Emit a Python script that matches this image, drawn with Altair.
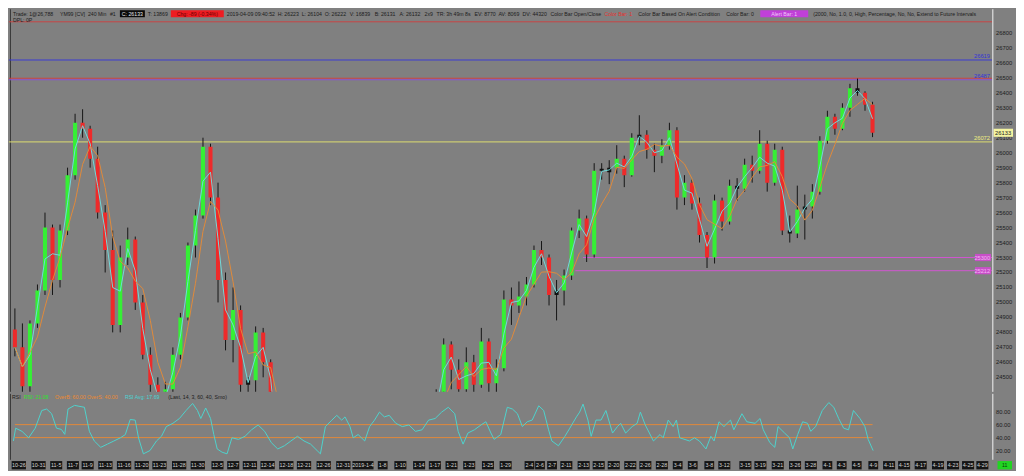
import altair as alt
import pandas as pd

# ---------------- data ----------------
bar_open = [24820, 24700, 24440, 24860, 25080, 25500, 25150, 25480, 25850, 26200,
            26160, 25960, 25600, 25350, 24850, 25300, 25420, 25000, 24650, 24450,
            24300, 24420, 24650, 24900, 25380, 25580, 26040, 25700, 25150, 24750,
            24950, 24450, 24480, 24800, 24600, 24380, 23600, 23680, 23320, 22860,
            22450, 21790, 22880, 23140, 23060, 23330, 23350, 22690, 23430, 23530,
            23790, 23880, 24000, 23990, 23910, 24070, 24210, 24380, 24720, 24550,
            24420, 24600, 24450, 24740, 24460, 24560, 25020, 24980, 25040, 25120,
            25350, 25300, 25050, 25080, 25180, 25480, 25560, 25320, 25880, 25870,
            25900, 25960, 25850, 26100, 26120, 26020, 25980, 26050, 26150, 25700,
            25800, 25660, 25450, 25300, 25680, 25540, 25780, 25760, 25920, 25880,
            26060, 25800, 26020, 25480, 25460, 25620, 25640, 25740, 26080, 26240,
            26160, 26300, 26430, 26400, 26320]
bar_high = [24960, 24860, 24880, 25120, 25600, 25520, 25520, 25900, 26260, 26290,
            26180, 26040, 25650, 25480, 25380, 25500, 25440, 25050, 24700, 24500,
            24470, 24700, 24930, 25400, 25620, 26100, 26060, 25800, 25200, 25100,
            24980, 24500, 24840, 24830, 24620, 24400, 23900, 24000, 23400, 23200,
            22500, 22900, 23150, 23400, 23400, 23400, 23400, 23500, 23700, 23900,
            24000, 24050, 24050, 24000, 24100, 24300, 24420, 24760, 24740, 24620,
            24700, 24650, 24830, 24760, 24620, 25080, 25100, 25140, 25170, 25380,
            25410, 25320, 25150, 25220, 25500, 25620, 25580, 25930, 25930, 25950,
            26050, 25980, 26130, 26250, 26150, 26060, 26090, 26200, 26170, 25850,
            25820, 25700, 25470, 25720, 25700, 25820, 25830, 25960, 25980, 26150,
            26080, 26060, 26040, 25580, 25780, 25720, 25790, 26110, 26280, 26260,
            26330, 26460, 26495, 26410, 26340]
bar_low = [24640, 24380, 24400, 24830, 25050, 25050, 25100, 25450, 25820, 26100,
           25900, 25560, 25200, 24800, 24800, 25250, 24950, 24620, 24350, 24200,
           24260, 24400, 24620, 24880, 25300, 25560, 25650, 25000, 24680, 24600,
           24400, 24350, 24380, 24500, 24350, 23500, 23400, 23250, 22700, 22400,
           21700, 21700, 22300, 23000, 23000, 22900, 22650, 22650, 23100, 23500,
           23700, 23600, 23850, 23700, 23850, 24000, 24100, 24370, 24420, 24380,
           24380, 24390, 24430, 24400, 24390, 24540, 24850, 24930, 24980, 25100,
           25250, 24980, 24880, 24980, 25150, 25430, 25270, 25300, 25820, 25790,
           25860, 25770, 25840, 26050, 25960, 25870, 25930, 26020, 25620, 25650,
           25620, 25400, 25230, 25260, 25480, 25520, 25680, 25740, 25800, 25860,
           25740, 25780, 25450, 25400, 25430, 25420, 25560, 25720, 26060, 26120,
           26150, 26240, 26380, 26280, 26104]
bar_close = [24700, 24440, 24860, 25080, 25500, 25150, 25480, 25850, 26200, 26160,
             25960, 25600, 25350, 24850, 25300, 25420, 25000, 24650, 24450, 24300,
             24420, 24650, 24900, 25380, 25580, 26040, 25700, 25150, 24750, 24950,
             24450, 24480, 24800, 24600, 24380, 23600, 23680, 23320, 22860, 22450,
             21790, 22880, 23140, 23060, 23330, 23350, 22690, 23430, 23530, 23790,
             23880, 24000, 23990, 23910, 24070, 24210, 24380, 24720, 24550, 24420,
             24600, 24450, 24740, 24460, 24560, 25020, 24980, 25040, 25120, 25350,
             25300, 25050, 25080, 25180, 25480, 25560, 25320, 25880, 25870, 25900,
             25960, 25850, 26100, 26120, 26020, 25980, 26050, 26150, 25700, 25800,
             25660, 25450, 25300, 25680, 25540, 25780, 25760, 25920, 25880, 26060,
             25800, 26020, 25480, 25460, 25620, 25640, 25740, 26080, 26240, 26160,
             26300, 26430, 26400, 26320, 26133]

price_ticks = [26800, 26700, 26600, 26500, 26400, 26300, 26200, 26100, 26000,
               25900, 25800, 25700, 25600, 25500, 25400, 25300, 25200, 25100,
               25000, 24900, 24800, 24700, 24600, 24500]
rsi_ticks = [80, 60, 40, 20]
rsi_bands = [60, 40]

rsi_pos = [-0.2, 0.1, 0.95, 1.83, 2.7, 3.57, 4.22, 4.88, 5.53, 6.18,
           6.63, 7.06, 7.93, 9.24, 9.9, 10.55, 11.41, 12.29, 13.16, 14.03,
           14.68, 15.33, 15.99, 16.43, 17.08, 17.95, 18.82, 19.48, 20.13, 21.0,
           21.87, 22.75, 23.62, 24.27, 24.71, 25.36, 26.01, 26.44, 26.89, 27.54,
           28.2, 28.85, 29.71, 30.59, 31.46, 32.33, 33.2, 34.08, 34.94, 35.82,
           36.69, 37.56, 38.43, 39.31, 40.17, 40.61, 41.27, 42.13, 42.78, 43.44,
           43.88, 44.54, 44.97, 45.62, 46.5, 47.15, 47.8, 48.46, 49.11, 49.76,
           50.63, 51.5, 52.38, 53.24, 54.12, 54.99, 55.86, 56.73, 57.61, 58.47,
           58.92, 59.57, 60.22, 61.08, 61.96, 62.61, 63.27, 63.7, 64.58, 65.45,
           66.14, 66.8, 67.45, 68.1, 68.76, 69.63, 70.29, 70.94, 71.37, 72.25,
           73.11, 73.76, 74.64, 75.07, 75.52, 76.17, 76.6, 77.25, 77.91, 78.56,
           79.44, 80.09, 80.52, 81.18, 82.05, 82.71, 83.14, 83.79, 84.88, 85.75,
           86.18, 86.84, 87.49, 87.93, 88.37, 89.67, 90.33, 90.98, 91.86, 92.51,
           92.94, 93.59, 94.25, 95.12, 95.56, 96.64, 97.29, 98.39, 99.05, 99.48,
           100.35, 101.01, 101.44, 102.31, 102.97, 103.4, 104.05, 104.71, 105.36, 105.79,
           106.44, 107.32, 108.19, 108.85, 109.5, 110.16, 110.81, 111.46, 112.33, 112.98,
           113.42, 114.08]
rsi_val = [34.8, 54.5, 49.6, 39.7, 54.5, 81.7, 84.0, 76.8, 54.5, 52.6,
           45.0, 84.0, 89.6, 86.7, 49.6, 34.8, 25.0, 29.9, 34.8, 39.7,
           44.7, 67.9, 66.9, 39.7, 15.0, 20.0, 34.8, 42.0, 57.0, 62.0,
           69.4, 81.7, 92.6, 81.7, 69.4, 85.6, 69.4, 44.7, 22.5, 17.5,
           15.0, 39.7, 37.3, 42.0, 52.0, 59.5, 49.6, 32.3, 22.5, 27.4,
           34.8, 42.0, 34.8, 29.9, 20.0, 15.0, 57.0, 66.9, 74.3, 66.9,
           71.9, 57.0, 39.7, 44.7, 34.8, 57.0, 66.9, 79.3, 71.9, 74.3,
           62.0, 57.0, 59.5, 49.6, 52.0, 66.9, 69.4, 79.3, 86.7, 76.8,
           49.6, 29.9, 47.1, 52.0, 59.5, 64.4, 47.1, 37.3, 44.7, 86.7,
           84.0, 76.8, 57.0, 64.4, 67.0, 89.0, 81.7, 52.0, 34.8, 27.4,
           42.0, 54.5, 71.9, 79.3, 91.6, 67.0, 42.0, 67.0, 67.0, 81.7,
           47.0, 57.0, 62.0, 47.0, 57.0, 62.0, 79.3, 59.5, 34.8, 44.7,
           39.7, 67.0, 57.0, 67.0, 39.7, 34.8, 39.7, 34.8, 22.5, 42.0,
           34.8, 64.4, 57.0, 67.0, 52.0, 76.8, 64.4, 62.0, 69.4, 52.0,
           32.3, 25.0, 57.0, 47.0, 39.7, 22.5, 44.7, 64.4, 62.0, 49.6,
           57.0, 81.7, 94.0, 86.7, 69.4, 54.5, 52.0, 81.7, 69.4, 57.0,
           37.3, 20.0]

date_text = ["10-26", "10-31", "11-5", "11-7", "11-9", "11-13", "11-16", "11-20",
             "11-23", "11-28", "11-30", "12-5", "12-7", "12-11", "12-14", "12-18",
             "12-21", "12-26", "12-31", "2019-1-4", "1-8", "1-10", "1-14", "1-17",
             "1-21", "1-23", "1-25", "1-29", "2-4", "2-6", "2-7", "2-11", "2-13",
             "2-15", "2-20", "2-22", "2-26", "2-28", "3-4", "3-6", "3-8", "3-12",
             "3-15", "3-19", "3-21", "3-26", "3-28", "4-1", "4-3", "4-5", "4-9",
             "4-11", "4-15", "4-17", "4-19", "4-23", "4-25", "4-29"]
date_pos = [0.52, 3.14, 5.49, 7.71, 9.67, 12.03, 14.51, 16.86, 19.22, 21.83,
            24.31, 26.93, 29.02, 31.24, 33.59, 36.08, 38.43, 41.05, 43.66, 46.27,
            48.89, 51.24, 53.73, 55.82, 58.04, 60.39, 62.88, 65.23, 68.4, 69.8,
            71.4, 73.3, 75.6, 77.6, 79.6, 81.8, 83.8, 86.0, 88.1, 90.1,
            92.3, 94.3, 97.1, 99.1, 101.4, 103.7, 105.8, 108.0, 109.9, 111.9,
            114.1, 116.2, 118.2, 120.4, 122.7, 124.7, 126.7, 128.6]

level_name = ["top", "blue", "red", "purple", "yellow", "mag1", "mag2"]
level_price = [26874, 26619, 26497, 26487, 26072, 25300, 25212]
level_from = [-0.8, -0.8, -0.8, -0.8, -0.8, 75.5, 74.5]
level_to = [129.9, 129.9, 129.9, 129.9, 129.9, 129.9, 129.9]
last_price = 26133

# ---------------- styles ----------------
FONT = "Liberation Sans Narrow, Liberation Sans, sans-serif"
BG = "#808080"
DARK = "#1c1c1c"
HS = 5.2  # header font size
level_colors = ["#c84444", "#3a3ad2", "#cc4444", "#8a50d0", "#dcdc6e", "#d055d0", "#d055d0"]
W, H1, H2 = 1008, 383, 77

X = alt.Scale(domain=[-0.784, 133.07], nice=False, zero=False)
YP = alt.Scale(domain=[24403, 26958], nice=False, zero=False)
YR = alt.Scale(domain=[-11.1, 107.4], nice=False, zero=False)

one = pd.DataFrame({"k": [0]})


def label(text, x, y, color=DARK, size=HS, align="left", **kw):
    return alt.Chart(one).mark_text(
        text=text, font=FONT, fontSize=size, color=color, align=align,
        baseline="middle", **kw
    ).encode(x=alt.value(x), y=alt.value(y))


def box(x0, x1, y0, y1, color):
    return alt.Chart(one).mark_rect(color=color).encode(
        x=alt.value(x0), x2=alt.value(x1), y=alt.value(y0), y2=alt.value(y1))


def vline(x, y0, y1, color, width=1):
    return alt.Chart(one).mark_rule(color=color, strokeWidth=width).encode(
        x=alt.value(x), y=alt.value(y0), y2=alt.value(y1))


# ---------------- price panel ----------------
n = len(bar_close)
candles = pd.DataFrame({"i": list(range(n)), "o": bar_open, "h": bar_high,
                        "l": bar_low, "c": bar_close})
cbase = alt.Chart(candles)

levels = pd.DataFrame({"name": level_name, "p": level_price,
                       "x0": level_from, "x1": level_to})
lvl = alt.Chart(levels).mark_rule(strokeWidth=1).encode(
    x=alt.X("x0:Q", scale=X, axis=None), x2="x1:Q",
    y=alt.Y("p:Q", scale=YP, axis=None),
    color=alt.Color("name:N", scale=alt.Scale(domain=level_name, range=level_colors),
                    legend=None))

wick = cbase.mark_rule(color="#151515", strokeWidth=1, clip=True).encode(
    x=alt.X("i:Q", scale=X, axis=None),
    y=alt.Y("l:Q", scale=YP, axis=None), y2="h:Q")

body = cbase.transform_calculate(
    lo="datum.i - 0.27", hi="datum.i + 0.27",
    kind="datum.c - datum.o >= 40 ? 'up' : (datum.o - datum.c >= 40 ? 'down' : 'flat')",
    top="abs(datum.c - datum.o) < 12 ? datum.o + 12 : datum.c",
).mark_rect(clip=True).encode(
    x=alt.X("lo:Q", scale=X, axis=None), x2="hi:Q",
    y=alt.Y("o:Q", scale=YP, axis=None), y2="top:Q",
    color=alt.Color("kind:N", scale=alt.Scale(domain=["up", "down", "flat"],
                                              range=["#35f035", "#ee2a2a", "#121212"]),
                    legend=None))

fast = cbase.transform_window(
    fast="mean(c)", frame=[-1, 0], sort=[alt.SortField("i")]
).mark_line(color="#70dada", strokeWidth=1, clip=True).encode(
    x=alt.X("i:Q", scale=X, axis=None), y=alt.Y("fast:Q", scale=YP, axis=None))

slow = cbase.transform_window(
    slow="mean(c)", frame=[-3, 0], sort=[alt.SortField("i")]
).mark_line(color="#e08a3a", strokeWidth=1, clip=True).encode(
    x=alt.X("i:Q", scale=X, axis=None), y=alt.Y("slow:Q", scale=YP, axis=None))

ticks = pd.DataFrame({"p": price_ticks})
tick_txt = alt.Chart(ticks).mark_text(
    align="left", baseline="middle", font=FONT, fontSize=5.8, color=DARK
).encode(x=alt.value(988), y=alt.Y("p:Q", scale=YP, axis=None),
         text=alt.Text("p:Q", format="d"))


def level_label(k, color):
    d = pd.DataFrame({"p": [level_price[k]], "t": [str(level_price[k])]})
    return alt.Chart(d).mark_text(
        align="right", baseline="middle", font=FONT, fontSize=5.8, color=color, dy=-4
    ).encode(x=alt.value(982), y=alt.Y("p:Q", scale=YP, axis=None), text="t:N")


def level_box(k):
    d = pd.DataFrame({"p": [level_price[k]], "t": [str(level_price[k])]})
    b = alt.Chart(d).transform_calculate(a="datum.p + 24", b="datum.p - 24").mark_rect(
        color="#c850c8").encode(x=alt.value(967), x2=alt.value(983),
                                y=alt.Y("a:Q", scale=YP, axis=None), y2="b:Q")
    t = alt.Chart(d).mark_text(align="right", baseline="middle", font=FONT,
                               fontSize=5.6, color="#f4b4f4").encode(
        x=alt.value(982), y=alt.Y("p:Q", scale=YP, axis=None), text="t:N")
    return b + t


lp = pd.DataFrame({"p": [last_price], "t": [str(last_price)]})
last_box = alt.Chart(lp).transform_calculate(a="datum.p + 27", b="datum.p - 27").mark_rect(
    color="#f4f4a0").encode(x=alt.value(985.5), x2=alt.value(1005),
                            y=alt.Y("a:Q", scale=YP, axis=None), y2="b:Q")
last_txt = alt.Chart(lp).mark_text(align="left", baseline="middle", font=FONT,
                                   fontSize=5.8, color="#202020").encode(
    x=alt.value(987), y=alt.Y("p:Q", scale=YP, axis=None), text="t:N")

HY = 4.4
header = [
    label("Trade: 1@26,788", 4, HY), label("YM99 [CV]", 51, HY),
    label("240 Min", 79, HY), label("#1", 101, HY),
    box(111, 136, 1, 8, "#0a0a0a"), label("C: 26133", 123.5, HY, "#e8e8e8", align="center"),
    label("T: 13869", 139, HY),
    box(162, 215, 1, 8, "#ee1c22"), label("Chg: -89 (-0.34%)", 188.5, HY, "#6a0000", align="center"),
    label("2019-04-09 09:40:52", 218, HY), label("H: 26223", 269, HY),
    label("L: 26104", 293, HY), label("O: 26222", 316, HY),
    label("V: 16839", 341, HY), label("B: 26131", 366, HY),
    label("A: 26132", 391, HY), label("2x9", 416, HY),
    label("TR: 3h 49m 8s", 428, HY), label("EV: 8770", 466, HY),
    label("AV: 8069", 490, HY), label("DV: 44320", 514, HY),
    label("Color Bar Open/Close", 542, HY),
    label("Color Bar: 1", 596, HY, "#e83030"),
    label("Color Bar Based On Alert Condition", 630, HY),
    label("Color Bar: 0", 718, HY),
    box(752, 800, 1, 8, "#c040d8"), label("Alert Bar: 1", 776, HY, "#f0c8fa", align="center"),
    label("(2000, No, 1.0, 0, High, Percentage, No, No, Extend to Future Intervals",
          805, HY, limit=178),
    label("DPL: 0P", 4, 10.6),
]

top = alt.layer(
    vline(1.5, 0, H1, "#3a3a3a"),
    lvl, wick, body, fast, slow,
    tick_txt,
    level_label(1, "#3434d8"), level_label(3, "#3434d8"), level_label(4, "#eeee80"),
    level_box(5), level_box(6),
    last_box, last_txt,
    vline(984.8, 0, H1, "#f2f2f2"),
    *header,
).resolve_scale(color="independent").properties(width=W, height=H1)

# ---------------- RSI panel + date row ----------------
rsi = pd.DataFrame({"x": rsi_pos, "v": rsi_val})
bands = pd.DataFrame({"v": rsi_bands, "x0": [0] * len(rsi_bands),
                      "x1": [n - 1] * len(rsi_bands)})
band_rule = alt.Chart(bands).mark_rule(color="#e0883a", strokeWidth=1).encode(
    x=alt.X("x0:Q", scale=X, axis=None), x2="x1:Q",
    y=alt.Y("v:Q", scale=YR, axis=None))
rsi_line = alt.Chart(rsi).mark_line(color="#4ed2cc", strokeWidth=1, clip=True).encode(
    x=alt.X("x:Q", scale=X, axis=None), y=alt.Y("v:Q", scale=YR, axis=None))
rticks = pd.DataFrame({"v": rsi_ticks})
rtick_txt = alt.Chart(rticks).mark_text(
    align="left", baseline="middle", font=FONT, fontSize=5.8, color=DARK
).encode(x=alt.value(988), y=alt.Y("v:Q", scale=YR, axis=None),
         text=alt.Text("v:Q", format=".2f"))

dates = pd.DataFrame({"t": date_text, "x": date_pos})
date_box = alt.Chart(dates).transform_calculate(
    lo="datum.x - (length(datum.t) * 0.15 + 0.2)",
    hi="datum.x + (length(datum.t) * 0.15 + 0.2)",
).mark_rect(color="#151515").encode(
    x=alt.X("lo:Q", scale=X, axis=None), x2="hi:Q",
    y=alt.value(67.3), y2=alt.value(75.6))
date_txt = alt.Chart(dates).mark_text(
    align="center", baseline="middle", font=FONT, fontSize=5.4, color="#d4d4d4"
).encode(x=alt.X("x:Q", scale=X, axis=None), y=alt.value(71.6), text="t:N")

RY = 3.5
bottom = alt.layer(
    vline(1.5, 0, 66, "#3a3a3a"),
    band_rule, rsi_line, rtick_txt,
    label("RSI", 3, RY), label("RSI: 21.08", 15, RY, "#2ee02e"),
    label("OverB: 60.00  OverS: 40.00", 46, RY, "#ec8a30"),
    label("RSI Avg: 17.69", 116, RY, "#4ad4d4"),
    label("(Last, 14, 3, 60, 40, Smo)", 159.5, RY),
    vline(984.8, 0, 66, "#f2f2f2"),
    date_box, date_txt,
    box(989.5, 1004, 67.3, 75.6, "#22d422"),
    label("11", 996.7, 71.6, "#0a400a", align="center"),
).properties(width=W, height=H2)

chart = alt.vconcat(top, bottom, spacing=0).properties(
    padding=0, background=BG
).configure_view(strokeWidth=0)

chart.save("out.html", embed_options={"renderer": "svg", "actions": False})
